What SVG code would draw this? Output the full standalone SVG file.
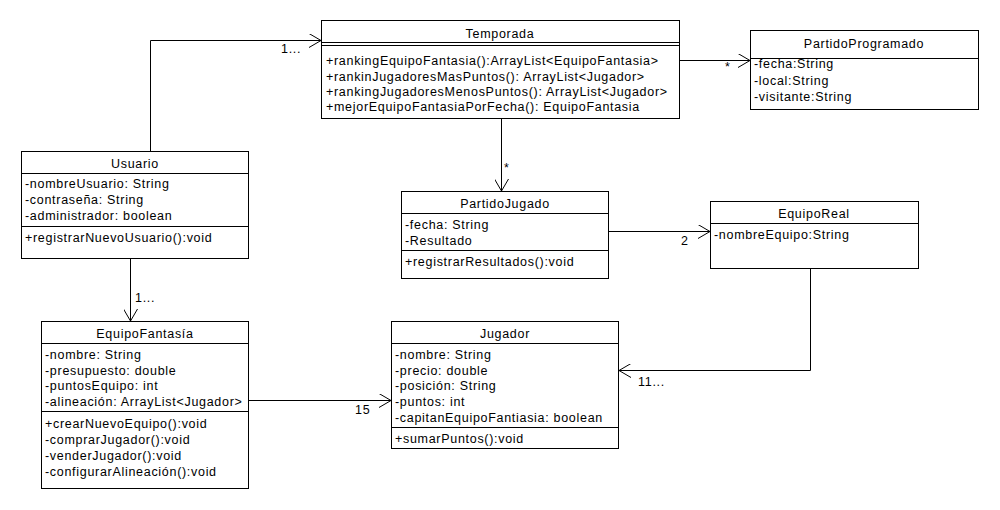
<svg xmlns="http://www.w3.org/2000/svg" width="1000" height="510" viewBox="0 0 1000 510">
<defs>
<style>
.box{fill:#fff;stroke:#000;stroke-width:1}
.ln{stroke:#000;stroke-width:1;fill:none}
text{font-family:"Liberation Sans",Arial,sans-serif;font-size:12.5px;letter-spacing:0.7px;fill:#000}
.t{text-anchor:middle}
</style>
<marker id="open" viewBox="0 0 12 14" refX="12" refY="7" markerWidth="12" markerHeight="14" markerUnits="userSpaceOnUse" orient="auto">
<path d="M0,0 L12,7 L0,14" fill="none" stroke="#000" stroke-width="1"/>
</marker>
</defs>
<rect width="1000" height="510" fill="#fff"/>

<g id="connectors">
<path class="ln" d="M150.5,151 L150.5,40.5 L321,40.5" marker-end="url(#open)"/>
<text x="281" y="53">1...</text>
<path class="ln" d="M680,60.5 L750,60.5" marker-end="url(#open)"/>
<text x="725" y="71">*</text>
<path class="ln" d="M501.5,119 L501.5,191" marker-end="url(#open)"/>
<text x="504" y="172">*</text>
<path class="ln" d="M609,231.5 L710,231.5" marker-end="url(#open)"/>
<text x="681" y="245">2</text>
<path class="ln" d="M810.5,269 L810.5,370.5 L619,370.5" marker-end="url(#open)"/>
<text x="638" y="386">11...</text>
<path class="ln" d="M130.5,259 L130.5,321" marker-end="url(#open)"/>
<text x="135" y="302">1...</text>
<path class="ln" d="M249,400.5 L391,400.5" marker-end="url(#open)"/>
<text x="355" y="414">15</text>
</g>

<g id="Temporada">
<rect class="box" x="321.5" y="20.5" width="358" height="98"/>
<text x="500" y="38" class="t">Temporada</text>
<line class="ln" x1="321.5" y1="42.5" x2="679.5" y2="42.5"/>
<line class="ln" x1="321.5" y1="45.5" x2="679.5" y2="45.5"/>
<text x="326" y="65">+rankingEquipoFantasia():ArrayList&lt;EquipoFantasia&gt;</text>
<text x="326" y="80.5">+rankinJugadoresMasPuntos(): ArrayList&lt;Jugador&gt;</text>
<text x="326" y="96">+rankingJugadoresMenosPuntos(): ArrayList&lt;Jugador&gt;</text>
<text x="326" y="111">+mejorEquipoFantasiaPorFecha(): EquipoFantasia</text>
</g>

<g id="PartidoProgramado">
<rect class="box" x="750.5" y="30.5" width="228" height="79"/>
<text x="864" y="48" class="t">PartidoProgramado</text>
<line class="ln" x1="750.5" y1="58.5" x2="978.5" y2="58.5"/>
<text x="754" y="68">-fecha:String</text>
<text x="754" y="84.5">-local:String</text>
<text x="754" y="100.5">-visitante:String</text>
</g>

<g id="Usuario">
<rect class="box" x="21.5" y="151.5" width="227" height="107"/>
<text x="135" y="168" class="t">Usuario</text>
<line class="ln" x1="21.5" y1="173.5" x2="248.5" y2="173.5"/>
<text x="25" y="188">-nombreUsuario: String</text>
<text x="25" y="204">-contraseña: String</text>
<text x="25" y="220">-administrador: boolean</text>
<line class="ln" x1="21.5" y1="226.5" x2="248.5" y2="226.5"/>
<text x="25" y="242">+registrarNuevoUsuario():void</text>
</g>

<g id="PartidoJugado">
<rect class="box" x="401.5" y="191.5" width="207" height="87"/>
<text x="505" y="208" class="t">PartidoJugado</text>
<line class="ln" x1="401.5" y1="213.5" x2="608.5" y2="213.5"/>
<text x="405" y="228.5">-fecha: String</text>
<text x="405" y="244.5">-Resultado</text>
<line class="ln" x1="401.5" y1="250.5" x2="608.5" y2="250.5"/>
<text x="405" y="266">+registrarResultados():void</text>
</g>

<g id="EquipoReal">
<rect class="box" x="710.5" y="201.5" width="208" height="67"/>
<text x="814" y="218" class="t">EquipoReal</text>
<line class="ln" x1="710.5" y1="223.5" x2="918.5" y2="223.5"/>
<text x="714" y="238.5">-nombreEquipo:String</text>
</g>

<g id="EquipoFantasia">
<rect class="box" x="41.5" y="321.5" width="207" height="167"/>
<text x="145" y="338" class="t">EquipoFantasía</text>
<line class="ln" x1="41.5" y1="343.5" x2="248.5" y2="343.5"/>
<text x="45" y="358.5">-nombre: String</text>
<text x="45" y="374.5">-presupuesto: double</text>
<text x="45" y="390">-puntosEquipo: int</text>
<text x="45" y="406">-alineación: ArrayList&lt;Jugador&gt;</text>
<line class="ln" x1="41.5" y1="411.5" x2="248.5" y2="411.5"/>
<text x="45" y="427.5">+crearNuevoEquipo():void</text>
<text x="45" y="443.5">-comprarJugador():void</text>
<text x="45" y="459.5">-venderJugador():void</text>
<text x="45" y="475.5">-configurarAlineación():void</text>
</g>

<g id="Jugador">
<rect class="box" x="391.5" y="321.5" width="227" height="127"/>
<text x="505" y="338" class="t">Jugador</text>
<line class="ln" x1="391.5" y1="343.5" x2="618.5" y2="343.5"/>
<text x="395" y="358.5">-nombre: String</text>
<text x="395" y="374.5">-precio: double</text>
<text x="395" y="390">-posición: String</text>
<text x="395" y="406">-puntos: int</text>
<text x="395" y="422">-capitanEquipoFantiasia: boolean</text>
<line class="ln" x1="391.5" y1="427.5" x2="618.5" y2="427.5"/>
<text x="395" y="443">+sumarPuntos():void</text>
</g>
</svg>
